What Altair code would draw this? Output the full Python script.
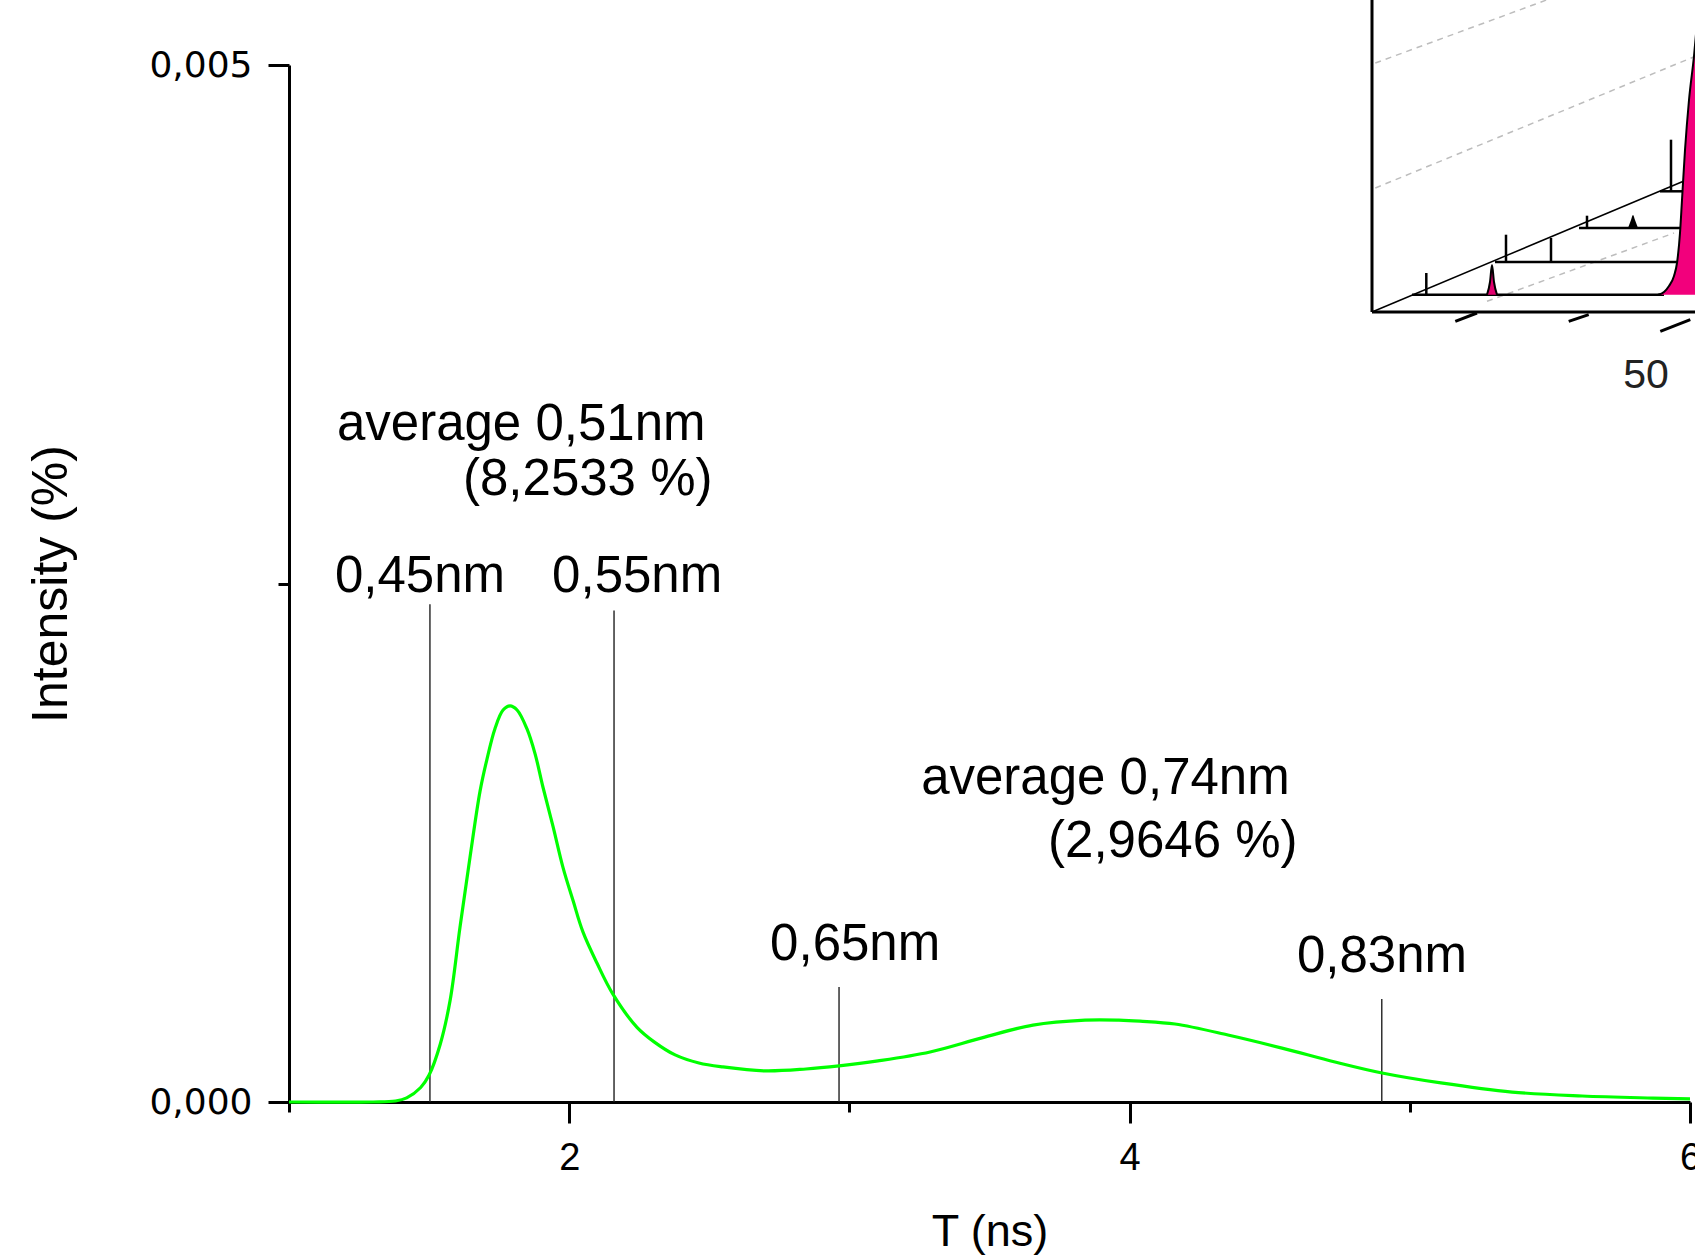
import altair as alt
import pandas as pd

# ---------------- main curve (T in ns, intensity) ----------------
t_ns = [1.00, 1.30, 1.38, 1.42, 1.47, 1.50, 1.54, 1.575, 1.61, 1.646, 1.682, 1.706,
        1.735, 1.764, 1.789, 1.814, 1.849, 1.878, 1.906, 1.942, 1.978, 2.014, 2.049,
        2.099, 2.156, 2.242, 2.303, 2.378, 2.463, 2.549, 2.699, 2.845, 2.963, 3.102,
        3.288, 3.473, 3.655, 3.841, 3.962, 4.037, 4.162, 4.351, 4.544, 4.733, 4.901,
        5.111, 5.365, 5.615, 5.868, 6.00]
intensity = [0.0, 0.0, 0.000005, 0.00002, 0.00007, 0.00013, 0.00028, 0.00049, 0.00084,
             0.00118, 0.00150, 0.00165, 0.00180, 0.00189, 0.00191, 0.00189, 0.00180,
             0.00168, 0.00152, 0.00133, 0.00113, 0.00097, 0.00082, 0.00067, 0.00052,
             0.00036, 0.00029, 0.000227, 0.000188, 0.000169, 0.000150, 0.000159,
             0.000174, 0.000198, 0.000241, 0.000309, 0.000371, 0.000395, 0.000395,
             0.000390, 0.000376, 0.000323, 0.000260, 0.000193, 0.000140, 0.000092,
             0.000048, 0.000029, 0.000019, 0.000015]

# vertical marker lines
marker_t = [1.503, 2.160, 2.963, 4.900]
marker_top = [0.00240, 0.00237, 0.000554, 0.000497]

# annotations
label_text = ["average 0,51nm", "(8,2533 %)", "0,45nm", "0,55nm",
              "average 0,74nm", "(2,9646 %)", "0,65nm", "0,83nm"]
label_t = [1.171, 1.621, 1.164, 1.939, 3.256, 3.709, 2.717, 4.597]
label_y = [0.003192, 0.002927, 0.002459, 0.002459, 0.001485, 0.001181, 0.000685, 0.000627]

# axis ticks
x_major = [2, 4, 6]
x_minor = [1, 3, 5]
y_major = [0.0, 0.005]
y_minor = [0.0025]

# ---------------- inset (3D waterfall thumbnail) ----------------
seg_kind = ["frame", "frame", "depth",
            "trace", "trace", "trace", "trace",
            "trace", "trace", "trace", "trace", "trace",
            "grid", "grid", "grid",
            "frame", "frame", "frame"]
seg_u1 = [0, 0, 0,
          40, 123, 207, 288,
          54.3, 134, 179, 215, 299,
          3.3, 3.3, 115,
          83.3, 196.7, 288.3]
seg_v1 = [0, 0, 0,
          17.3, 50, 84, 120.7,
          17.3, 50, 50, 84, 120.7,
          249, 124, 10.7,
          -9.3, -9.3, -19.3]
seg_u2 = [0, 330, 330,
          292, 305, 308, 312,
          54.3, 134, 179, 215, 299,
          180, 330, 302,
          105, 216.7, 318.3]
seg_v2 = [330, 0, 138.6,
          17.3, 50, 84, 120.7,
          39, 77.3, 74, 96.3, 172.3,
          314, 258.5, 79,
          -1, -2.7, -7.7]

big_peak_u = [286, 292, 297, 302, 305, 308, 310, 313, 317, 322, 326, 330]
big_peak_v = [17.3, 20, 26, 36, 49, 79, 112, 162, 212, 256, 300, 340]
big_peak_base = [17.3] * len(big_peak_u)

small_peak_u = [115, 118, 120, 122, 125]
small_peak_v = [17.3, 30, 47, 30, 17.3]
small_peak_base = [17.3] * 5

bump_u = [256, 259, 261, 263, 266]
bump_v = [84, 92, 97, 92, 84]
bump_base = [84] * 5

inset_label = ["50"]
inset_label_u = [274]
inset_label_v = [-76]

# ---------------- frames ----------------
curve_df = pd.DataFrame({"t": t_ns, "I": intensity})
marker_df = pd.DataFrame({"t": marker_t, "top": marker_top, "zero": [0.0] * len(marker_t)})
label_df = pd.DataFrame({"t": label_t, "I": label_y, "txt": label_text})
seg_df = pd.DataFrame({"kind": seg_kind, "u1": seg_u1, "v1": seg_v1, "u2": seg_u2, "v2": seg_v2})
big_df = pd.DataFrame({"u": big_peak_u, "v": big_peak_v, "b": big_peak_base})
small_df = pd.DataFrame({"u": small_peak_u, "v": small_peak_v, "b": small_peak_base})
bump_df = pd.DataFrame({"u": bump_u, "v": bump_v, "b": bump_base})
inset_txt_df = pd.DataFrame({"u": inset_label_u, "v": inset_label_v, "txt": inset_label})

W, H = 1401, 1037
FONT = "Liberation Sans"

xs = alt.Scale(domain=[1, 6], nice=False, zero=False)
ys = alt.Scale(domain=[0, 0.005], nice=False, zero=False)
us = alt.Scale(domain=[0, 323], range=[1083, 1406], nice=False, zero=False)
vs = alt.Scale(domain=[0, 312], range=[247, -65], nice=False, zero=False)

curve = alt.Chart(curve_df).mark_line(color="#00ff00", strokeWidth=3.2, interpolate="catmull-rom").encode(
    x=alt.X("t:Q", scale=xs, axis=alt.Axis(
        values=x_major, orient="bottom", title="T (ns)", tickSize=21, labelFont=FONT,
        labelFontSize=38, labelPadding=16, labelFlush=False, labelOverlap=False,
        titleFont=FONT, titleFontSize=45, titlePadding=32, grid=False)),
    y=alt.Y("I:Q", scale=ys, axis=alt.Axis(
        values=y_major, orient="left", title="Intensity (%)", tickSize=21,
        labelExpr="replace(format(datum.value, '.3f'), '.', ',')",
        labelFont="DejaVu Sans", labelFontSize=36, labelPadding=16, labelFlush=False,
        titleFont=FONT, titleFontSize=50, titlePadding=72, grid=False)),
)

markers = alt.Chart(marker_df).mark_rule(color="#222222", strokeWidth=1.4).encode(
    x=alt.X("t:Q", scale=xs, axis=alt.Axis(
        values=x_minor, orient="bottom", tickSize=10, labels=False, domain=False,
        title="", grid=False)),
    y=alt.Y("zero:Q", scale=ys, axis=alt.Axis(
        values=y_minor, orient="left", tickSize=11, labels=False, domain=False,
        title="", grid=False)),
    y2="top:Q",
)

labels = alt.Chart(label_df).mark_text(
    align="left", baseline="alphabetic", font=FONT, fontSize=51, color="black"
).encode(
    x=alt.X("t:Q", scale=xs, axis=None),
    y=alt.Y("I:Q", scale=ys, axis=None),
    text="txt:N",
)


def seg_layer(kind, **mark):
    return alt.Chart(seg_df).transform_filter(alt.datum.kind == kind).mark_rule(**mark).encode(
        x=alt.X("u1:Q", scale=us, axis=None),
        y=alt.Y("v1:Q", scale=vs, axis=None),
        x2="u2:Q",
        y2="v2:Q",
    )


grid_l = seg_layer("grid", color="#bdbdbd", strokeWidth=1.5, strokeDash=[6, 5])
depth_l = seg_layer("depth", color="black", strokeWidth=1.5)
trace_l = seg_layer("trace", color="black", strokeWidth=2.5)
frame_l = seg_layer("frame", color="black", strokeWidth=3)


def area_layer(df, fill):
    return alt.Chart(df).mark_area(color=fill, interpolate="monotone").encode(
        x=alt.X("u:Q", scale=us, axis=None),
        y=alt.Y("v:Q", scale=vs, axis=None),
        y2="b:Q",
    )


def outline_layer(df):
    return alt.Chart(df).mark_line(color="black", strokeWidth=2, interpolate="monotone").encode(
        x=alt.X("u:Q", scale=us, axis=None),
        y=alt.Y("v:Q", scale=vs, axis=None),
    )


big_area = area_layer(big_df, "#f2007c")
big_line = outline_layer(big_df)
small_area = area_layer(small_df, "#e0006e")
small_line = outline_layer(small_df)
bump_area = area_layer(bump_df, "black")

inset_text = alt.Chart(inset_txt_df).mark_text(
    align="center", baseline="alphabetic", font=FONT, fontSize=41, color="#222222"
).encode(
    x=alt.X("u:Q", scale=us, axis=None),
    y=alt.Y("v:Q", scale=vs, axis=None),
    text="txt:N",
)

chart = alt.layer(
    grid_l, depth_l, trace_l, big_area, big_line, small_area, small_line, bump_area,
    frame_l, inset_text,
    markers, curve, labels,
).resolve_scale(
    x="independent", y="independent"
).properties(
    width=W, height=H,
    autosize=alt.AutoSizeParams(type="none"),
    padding={"left": 289, "top": 65, "right": 5, "bottom": 155},
    background="white",
).configure_view(
    strokeWidth=0
).configure_axis(
    domainColor="black", domainWidth=3, tickColor="black", tickWidth=3,
    labelColor="black", titleColor="black", titleFontWeight="normal",
)

chart.save("out.html", embed_options={"renderer": "svg", "actions": False})
